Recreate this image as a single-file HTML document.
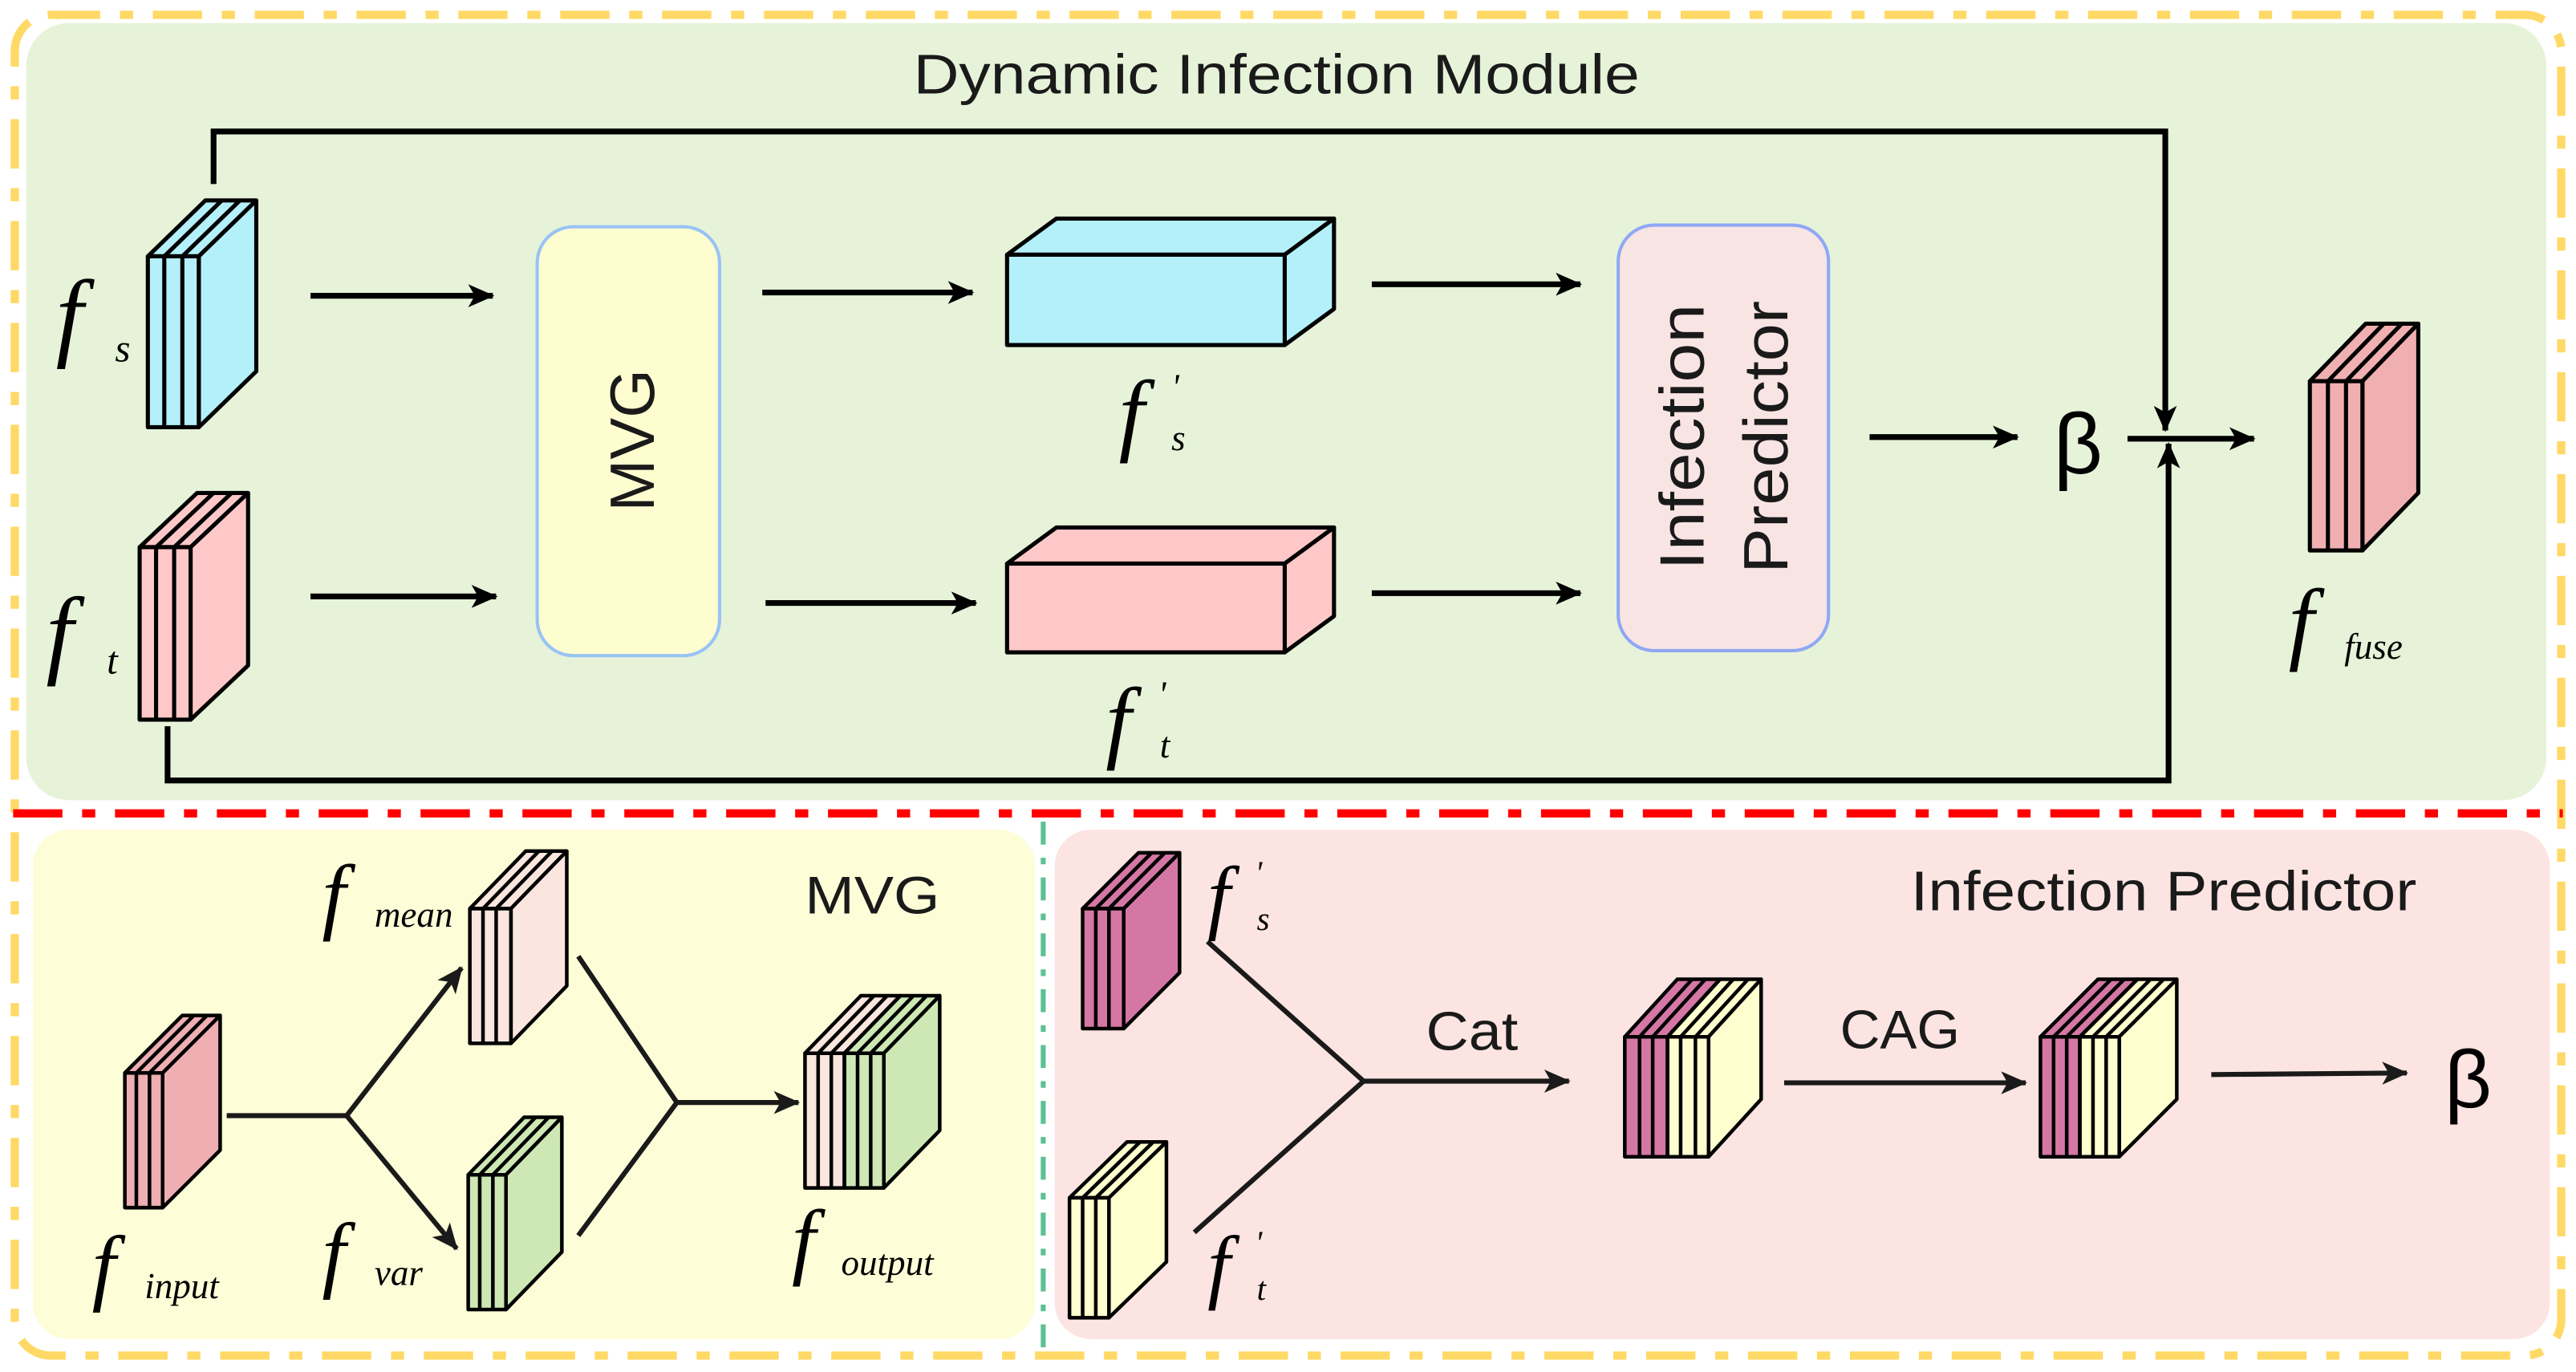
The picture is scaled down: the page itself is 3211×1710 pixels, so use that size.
<!DOCTYPE html>
<html><head><meta charset="utf-8"><style>
html,body{margin:0;padding:0;background:#fff;}
svg{display:block;}
text{font-family:"Liberation Sans",sans-serif;}
.m{font-family:"Liberation Serif",serif;font-style:italic;fill:#000;}
</style></head><body>
<svg width="3211" height="1710" viewBox="0 0 1568 835" xmlns="http://www.w3.org/2000/svg">
<defs>
<marker id="a" markerUnits="userSpaceOnUse" markerWidth="16" markerHeight="14" refX="15" refY="7" orient="auto">
<path d="M0,0 L16,7 L0,14 L4,7 Z" fill="#000"/></marker>
<marker id="b" markerUnits="userSpaceOnUse" markerWidth="16" markerHeight="14" refX="15" refY="7" orient="auto">
<path d="M0,0 L16,7 L0,14 L4,7 Z" fill="#1a1a1a"/></marker>
</defs>
<rect width="1568" height="835" fill="#fff"/>
<rect x="16" y="14" width="1534" height="473" rx="26" fill="#E6F3D9"/>
<rect x="20" y="505" width="610" height="310" rx="22" fill="#FDFDD8"/>
<rect x="642" y="505" width="910" height="310" rx="22" fill="#FBE4E1"/>
<rect x="9" y="9" width="1550" height="816" rx="22" fill="none" stroke="#FFD966" stroke-width="5" stroke-dasharray="30 12 8 12"/>
<line x1="8" y1="495" x2="1560" y2="495" stroke="#FF0000" stroke-width="5" stroke-dasharray="30 12 8 12"/>
<line x1="635" y1="500" x2="635" y2="820" stroke="#5DC193" stroke-width="3" stroke-dasharray="14 8 4 8"/>

<text x="556" y="57" font-size="34" textLength="442" lengthAdjust="spacingAndGlyphs" fill="#1a1a1a">Dynamic Infection Module</text>

<polyline points="130,112 130,80 1318,80 1318,262" fill="none" stroke="#000" stroke-width="3.5" marker-end="url(#a)"/>
<polyline points="102,442 102,475 1320,475 1320,270" fill="none" stroke="#000" stroke-width="3.5" marker-end="url(#a)"/>

<g stroke="#000" stroke-width="2.5" stroke-linejoin="round">
<polygon points="90,156 125,122 156,122 121,156" fill="#B3F0FA"/>
<polygon points="121,156 156,122 156,226 121,260" fill="#B3F0FA"/>
<rect x="90" y="156" width="31" height="104" fill="#B3F0FA"/>
<path d="M100,156V260M111,156V260M100,156L135,122M111,156L146,122" fill="none"/>
<polygon points="85,333 120,300 151,300 116,333" fill="#FFC8C8"/>
<polygon points="116,333 151,300 151,405 116,438" fill="#FFC8C8"/>
<rect x="85" y="333" width="31" height="105" fill="#FFC8C8"/>
<path d="M95,333V438M106,333V438M95,333L130,300M106,333L141,300" fill="none"/>
<polygon points="613,155 643,133 812,133 782,155" fill="#B3F0FA"/>
<polygon points="782,155 812,133 812,188 782,210" fill="#B3F0FA"/>
<rect x="613" y="155" width="169" height="55" fill="#B3F0FA"/>
<polygon points="613,343 643,321 812,321 782,343" fill="#FFC8C8"/>
<polygon points="782,343 812,321 812,375 782,397" fill="#FFC8C8"/>
<rect x="613" y="343" width="169" height="54" fill="#FFC8C8"/>
<polygon points="1406,232 1440,197 1472,197 1438,232" fill="#F0B0B2"/>
<polygon points="1438,232 1472,197 1472,300 1438,335" fill="#F0B0B2"/>
<rect x="1406" y="232" width="32" height="103" fill="#F0B0B2"/>
<path d="M1417,232V335M1428,232V335M1417,232L1451,197M1428,232L1462,197" fill="none"/>
</g>

<rect x="327" y="138" width="111" height="261" rx="22" fill="#FDFDD0" stroke="#99C3F5" stroke-width="2"/>
<text transform="translate(398,268) rotate(-90)" font-size="38" text-anchor="middle" fill="#1a1a1a">MVG</text>
<rect x="985" y="137" width="128" height="259" rx="22" fill="#F9E4E4" stroke="#8FA8F5" stroke-width="2"/>
<text transform="translate(1037,266) rotate(-90)" font-size="38" text-anchor="middle" textLength="162" lengthAdjust="spacingAndGlyphs" fill="#1a1a1a">Infection</text>
<text transform="translate(1088,266) rotate(-90)" font-size="38" text-anchor="middle" textLength="166" lengthAdjust="spacingAndGlyphs" fill="#1a1a1a">Predictor</text>

<g stroke="#000" stroke-width="3.5" fill="none">
<line x1="189" y1="180" x2="300" y2="180" marker-end="url(#a)"/>
<line x1="189" y1="363" x2="302" y2="363" marker-end="url(#a)"/>
<line x1="464" y1="178" x2="592" y2="178" marker-end="url(#a)"/>
<line x1="466" y1="367" x2="594" y2="367" marker-end="url(#a)"/>
<line x1="835" y1="173" x2="962" y2="173" marker-end="url(#a)"/>
<line x1="835" y1="361" x2="962" y2="361" marker-end="url(#a)"/>
<line x1="1138" y1="266" x2="1228" y2="266" marker-end="url(#a)"/>
<line x1="1295" y1="267" x2="1372" y2="267" marker-end="url(#a)"/>
</g>
<text x="1250" y="288" font-size="52" font-family="Liberation Serif,serif" fill="#000">β</text>

<text class="m" x="34" y="212" font-size="60">f</text><text class="m" x="70" y="220" font-size="24">s</text>
<text class="m" x="28" y="405" font-size="60">f</text><text class="m" x="65" y="410" font-size="24">t</text>
<text class="m" x="681" y="270" font-size="56">f</text><text class="m" x="713" y="243" font-size="22">'</text><text class="m" x="713" y="274" font-size="22">s</text>
<text class="m" x="673" y="457" font-size="56">f</text><text class="m" x="705" y="430" font-size="22">'</text><text class="m" x="706" y="461" font-size="22">t</text>
<text class="m" x="1393" y="397" font-size="56">f</text><text class="m" x="1427" y="401" font-size="22">fuse</text>

<text x="490" y="556" font-size="32" textLength="82" lengthAdjust="spacingAndGlyphs" fill="#1a1a1a">MVG</text>
<g stroke="#1a1a1a" stroke-width="3" fill="none">
<polyline points="138,679 211,679"/>
<line x1="211" y1="679" x2="281" y2="589" marker-end="url(#b)"/>
<line x1="211" y1="679" x2="278" y2="760" marker-end="url(#b)"/>
<polyline points="352,582 412,671 352,752"/>
<line x1="412" y1="671" x2="486" y2="671" marker-end="url(#b)"/>
</g>
<g stroke="#000" stroke-width="2.2" stroke-linejoin="round">
<polygon points="76,653 111,618 134,618 99,653" fill="#EFAEB2"/>
<polygon points="99,653 134,618 134,700 99,735" fill="#EFAEB2"/>
<rect x="76" y="653" width="23" height="82" fill="#EFAEB2"/>
<path d="M83,653V735M91,653V735M83,653L118,618M91,653L126,618" fill="none"/>
<polygon points="286,553 320,518 345,518 311,553" fill="#FAE6DE"/>
<polygon points="311,553 345,518 345,600 311,635" fill="#FAE6DE"/>
<rect x="286" y="553" width="25" height="82" fill="#FAE6DE"/>
<path d="M294,553V635M302,553V635M294,553L328,518M302,553L336,518" fill="none"/>
<polygon points="285,715 319,680 342,680 308,715" fill="#CDE8B4"/>
<polygon points="308,715 342,680 342,762 308,797" fill="#CDE8B4"/>
<rect x="285" y="715" width="23" height="82" fill="#CDE8B4"/>
<path d="M292,715V797M300,715V797M292,715L326,680M300,715L334,680" fill="none"/>
<polygon points="490,641 524,606 548,606 514,641" fill="#FAE6DE"/>
<polygon points="514,641 548,606 572,606 538,641" fill="#CDE8B4"/>
<polygon points="538,641 572,606 572,688 538,723" fill="#CDE8B4"/>
<rect x="490" y="641" width="24" height="82" fill="#FAE6DE"/>
<rect x="514" y="641" width="24" height="82" fill="#CDE8B4"/>
<path d="M498,641V723M506,641V723M514,641V723M522,641V723M530,641V723M498,641L532,606M506,641L540,606M514,641L548,606M522,641L556,606M530,641L564,606" fill="none"/>
</g>
<text class="m" x="196" y="562" font-size="52">f</text><text class="m" x="228" y="564" font-size="22">mean</text>
<text class="m" x="196" y="780" font-size="52">f</text><text class="m" x="228" y="782" font-size="22">var</text>
<text class="m" x="56" y="788" font-size="52">f</text><text class="m" x="88" y="790" font-size="22">input</text>
<text class="m" x="482" y="772" font-size="52">f</text><text class="m" x="512" y="776" font-size="22">output</text>

<text x="1163" y="554" font-size="34" textLength="308" lengthAdjust="spacingAndGlyphs" fill="#1a1a1a">Infection Predictor</text>
<g stroke="#1a1a1a" stroke-width="3" fill="none">
<polyline points="735,573 830,658 727,750"/>
<line x1="830" y1="658" x2="955" y2="658" marker-end="url(#b)"/>
<line x1="1086" y1="659" x2="1233" y2="659" marker-end="url(#b)"/>
<line x1="1346" y1="654" x2="1465" y2="653" marker-end="url(#b)"/>
</g>
<text x="868" y="639" font-size="33" textLength="56" lengthAdjust="spacingAndGlyphs" fill="#1a1a1a">Cat</text>
<text x="1120" y="638" font-size="33" textLength="73" lengthAdjust="spacingAndGlyphs" fill="#1a1a1a">CAG</text>
<text x="1488" y="674" font-size="50" font-family="Liberation Serif,serif" fill="#000">β</text>
<g stroke="#000" stroke-width="2.2" stroke-linejoin="round">
<polygon points="659,553 693,519 718,519 684,553" fill="#D577A4"/>
<polygon points="684,553 718,519 718,592 684,626" fill="#D577A4"/>
<rect x="659" y="553" width="25" height="73" fill="#D577A4"/>
<path d="M667,553V626M675,553V626M667,553L701,519M675,553L709,519" fill="none"/>
<polygon points="651,729 686,695 710,695 675,729" fill="#FEFECE"/>
<polygon points="675,729 710,695 710,768 675,802" fill="#FEFECE"/>
<rect x="651" y="729" width="24" height="73" fill="#FEFECE"/>
<path d="M659,729V802M667,729V802M659,729L694,695M667,729L702,695" fill="none"/>
<polygon points="989,631 1021,596 1047,596 1015,631" fill="#D577A4"/>
<polygon points="1015,631 1047,596 1072,596 1040,631" fill="#FEFECE"/>
<polygon points="1040,631 1072,596 1072,669 1040,704" fill="#FEFECE"/>
<rect x="989" y="631" width="26" height="73" fill="#D577A4"/>
<rect x="1015" y="631" width="25" height="73" fill="#FEFECE"/>
<path d="M998,631V704M1006,631V704M1015,631V704M1023,631V704M1032,631V704M998,631L1030,596M1006,631L1038,596M1015,631L1047,596M1023,631L1055,596M1032,631L1064,596" fill="none"/>
<polygon points="1242,631 1277,596 1301,596 1266,631" fill="#D577A4"/>
<polygon points="1266,631 1301,596 1325,596 1290,631" fill="#FEFECE"/>
<polygon points="1290,631 1325,596 1325,669 1290,704" fill="#FEFECE"/>
<rect x="1242" y="631" width="24" height="73" fill="#D577A4"/>
<rect x="1266" y="631" width="24" height="73" fill="#FEFECE"/>
<path d="M1250,631V704M1258,631V704M1266,631V704M1274,631V704M1282,631V704M1250,631L1285,596M1258,631L1293,596M1266,631L1301,596M1274,631L1309,596M1282,631L1317,596" fill="none"/>
</g>
<text class="m" x="735" y="562" font-size="50">f</text><text class="m" x="764" y="538" font-size="20">'</text><text class="m" x="765" y="566" font-size="20">s</text>
<text class="m" x="735" y="787" font-size="50">f</text><text class="m" x="764" y="763" font-size="20">'</text><text class="m" x="765" y="791" font-size="20">t</text>
</svg>
</body></html>
